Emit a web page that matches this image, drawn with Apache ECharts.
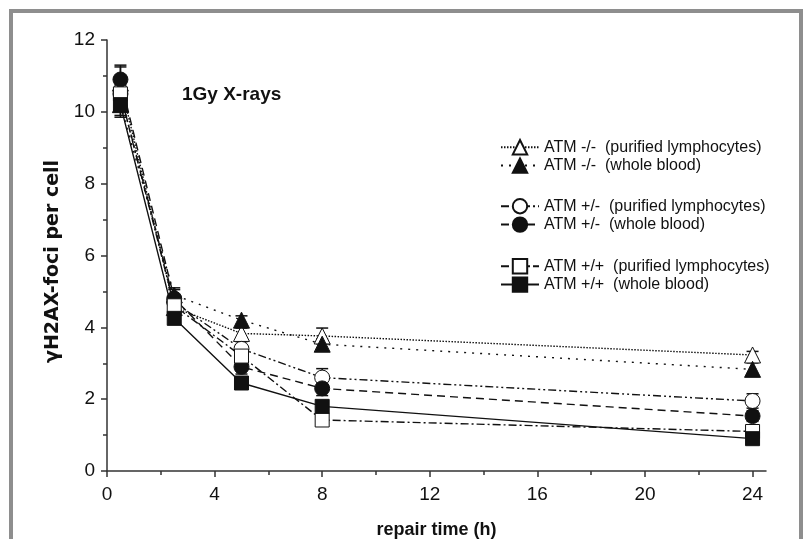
<!DOCTYPE html>
<html>
<head>
<meta charset="utf-8">
<script src="https://cdn.jsdelivr.net/npm/echarts@6/dist/echarts.min.js"></script>
<style>
html, body { margin: 0; padding: 0; background: #fff; }
#main { width: 805px; height: 539px; }
</style>
</head>
<body>
<div id="main"></div>
<script>
// repair times (h)
var times = [0.5, 2.5, 5, 8, 24];

var names = [
  'ATM -/-  (purified lymphocytes)',
  'ATM -/-  (whole blood)',
  'ATM +/-  (purified lymphocytes)',
  'ATM +/-  (whole blood)',
  'ATM +/+  (purified lymphocytes)',
  'ATM +/+  (whole blood)'
];

// foci per cell
var nullPurified = [10.8, 4.55, 3.83, 3.76, 3.23];
var nullBlood = [10.2, 4.9, 4.2, 3.53, 2.83];
var hetPurified = [10.5, 4.7, 3.4, 2.6, 1.95];
var hetBlood = [10.9, 4.8, 2.9, 2.3, 1.53];
var wtPurified = [10.5, 4.6, 3.2, 1.42, 1.1];
var wtBlood = [10.2, 4.25, 2.45, 1.8, 0.9];

// error bar half-lengths
var nullPurifiedErr = [0.5, 0.25, 0.15, 0.22, 0.1];
var nullBloodErr = [0.3, 0.2, 0.12, 0.15, 0.18];
var hetPurifiedErr = [0.3, 0.2, 0.2, 0.25, 0.2];
var hetBloodErr = [0.35, 0.25, 0.2, 0.2, 0.15];
var wtPurifiedErr = [0.25, 0.2, 0.25, 0.1, 0.12];
var wtBloodErr = [0.35, 0.15, 0.12, 0.15, 0.1];

var xMajorTicks = [0, 4, 8, 12, 16, 20, 24];
var xMinorTicks = [2, 6, 10, 14, 18, 22];

var values = [nullPurified, nullBlood, hetPurified, hetBlood, wtPurified, wtBlood];
var errors = [nullPurifiedErr, nullBloodErr, hetPurifiedErr, hetBloodErr, wtPurifiedErr, wtBloodErr];
var symbols = ['triangle', 'triangle', 'circle', 'circle', 'rect', 'rect'];
var sizes = [16, 16, 15, 15, 14, 14];
var fills = ['#fff', '#111', '#fff', '#111', '#fff', '#111'];
var dashes = [[1.5, 1.5], [2, 6], [8, 3, 2, 3, 2, 3], [8, 5], [8, 3, 2, 3], 'solid'];

var font = '"Liberation Sans", Arial, sans-serif';
var ink = '#111';

function renderErr(params, api) {
  var x = api.value(0);
  var lo = api.coord([x, api.value(1)]);
  var hi = api.coord([x, api.value(2)]);
  var w = 6;
  var st = { stroke: ink, lineWidth: 1.5 };
  return {
    type: 'group',
    children: [
      { type: 'line', shape: { x1: lo[0], y1: lo[1], x2: hi[0], y2: hi[1] }, style: st },
      { type: 'line', shape: { x1: lo[0] - w, y1: lo[1], x2: lo[0] + w, y2: lo[1] }, style: st },
      { type: 'line', shape: { x1: hi[0] - w, y1: hi[1], x2: hi[0] + w, y2: hi[1] }, style: st }
    ]
  };
}

var series = [];
var errData = [];
values.forEach(function (vals, i) {
  series.push({
    name: names[i],
    type: 'line',
    data: times.map(function (t, j) { return [t, vals[j]]; }),
    symbol: symbols[i],
    symbolSize: sizes[i],
    showAllSymbol: true,
    lineStyle: { color: ink, width: 1.4, type: dashes[i] },
    itemStyle: { color: fills[i], borderColor: ink, borderWidth: 1 },
    emphasis: { disabled: true },
    z: 3
  });
  times.forEach(function (t, j) {
    errData.push([t, vals[j] - errors[i][j], vals[j] + errors[i][j]]);
  });
});
series.push({
  type: 'custom',
  renderItem: renderErr,
  data: errData,
  encode: { x: 0, y: [1, 2] },
  z: 2,
  silent: true
});

var legendTops = [139, 198, 258];
var legends = [0, 1, 2].map(function (k) {
  return {
    data: [names[2 * k], names[2 * k + 1]],
    orient: 'vertical',
    left: 500,
    top: legendTops[k],
    padding: 0,
    itemWidth: 38,
    itemHeight: 18,
    itemGap: 2,
    selectedMode: false,
    textStyle: { fontSize: 16, color: ink, fontFamily: font }
  };
});

var chart = echarts.init(document.getElementById('main'));
chart.setOption({
  animation: false,
  backgroundColor: '#fff',
  title: {
    text: '1Gy X-rays',
    left: 182,
    top: 85,
    padding: 0,
    textStyle: { fontSize: 19, fontWeight: 'bold', color: ink, fontFamily: font }
  },
  legend: legends,
  graphic: [{
    type: 'rect',
    shape: { x: 11, y: 11, width: 790, height: 600 },
    style: { fill: 'none', stroke: '#8e8e8e', lineWidth: 4 }
  }],
  grid: { left: 107, right: 39, top: 40, bottom: 68, outerBoundsMode: 'none' },
  xAxis: [{
    type: 'value',
    min: 0,
    max: 24.5,
    name: 'repair time (h)',
    nameLocation: 'middle',
    nameGap: 50,
    nameTextStyle: { fontSize: 18, fontWeight: 'bold', color: ink, fontFamily: font },
    axisLine: { show: true, lineStyle: { color: '#333', width: 1.5 } },
    axisTick: { show: true, length: 6, customValues: xMajorTicks, lineStyle: { color: '#333', width: 1.5 } },
    axisLabel: { customValues: xMajorTicks, fontSize: 19, color: ink, fontFamily: font, margin: 14 },
    splitLine: { show: false }
  }, {
    type: 'value',
    position: 'bottom',
    min: 0,
    max: 24.5,
    axisLine: { show: false },
    axisTick: { show: true, length: 4, customValues: xMinorTicks, lineStyle: { color: '#333', width: 1.5 } },
    axisLabel: { show: false },
    splitLine: { show: false }
  }],
  yAxis: {
    type: 'value',
    min: 0,
    max: 12,
    interval: 2,
    name: 'γH2AX-foci per cell',
    nameLocation: 'middle',
    nameGap: 33,
    nameTextStyle: { fontSize: 19, fontWeight: 'bold', color: ink, fontFamily: '"DejaVu Sans", sans-serif', padding: [0, 12, 0, 0] },
    axisLine: { show: true, lineStyle: { color: '#333', width: 1.5 } },
    axisTick: { show: true, length: 6, lineStyle: { color: '#333', width: 1.5 } },
    minorTick: { show: true, splitNumber: 2, length: 4, lineStyle: { color: '#333', width: 1.5 } },
    axisLabel: { fontSize: 19, color: ink, fontFamily: font, margin: 12 },
    splitLine: { show: false },
    minorSplitLine: { show: false }
  },
  series: series
});
</script>
</body>
</html>
